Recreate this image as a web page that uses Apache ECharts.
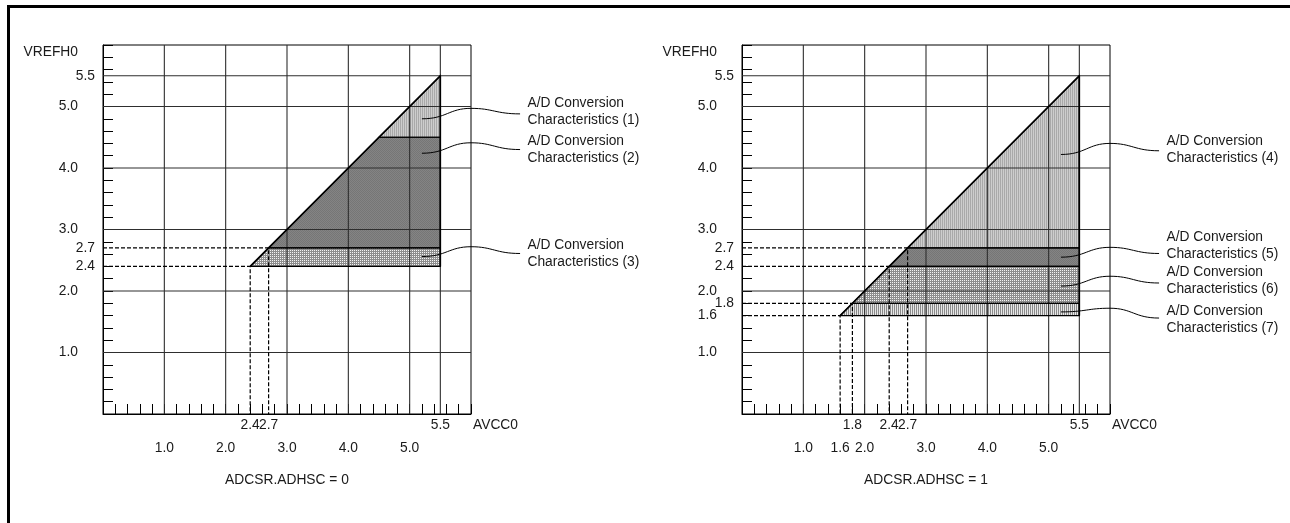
<!DOCTYPE html>
<html><head><meta charset="utf-8">
<script src="https://cdn.jsdelivr.net/npm/echarts@6/dist/echarts.min.js"></script>
<style>html,body{margin:0;padding:0;background:#fff}#c{width:1290px;height:523px}</style>
</head><body><div id="c"></div>
<script>
// ---------------- data ----------------
const gridValues = [1.0, 2.0, 3.0, 4.0, 5.0, 5.5];
const vMax = 5.5;

const leftXNearTicks = [2.4, 2.7, 5.5];
const leftXFarTicks = [1.0, 2.0, 3.0, 4.0, 5.0];
const leftYNearTicks = [2.4, 2.7, 5.5];
const leftYFarTicks = [1.0, 2.0, 3.0, 4.0, 5.0];

const rightXNearTicks = [1.8, 2.4, 2.7, 5.5];
const rightXFarTicks = [1.0, 1.6, 2.0, 3.0, 4.0, 5.0];
const rightYNearTicks = [1.8, 2.4, 2.7, 5.5];
const rightYFarTicks = [1.0, 1.6, 2.0, 3.0, 4.0, 5.0];

const leftBandLow = [4.5, 2.7, 2.4];
const leftBandHigh = [5.5, 4.5, 2.7];
const leftBandNames = ['A/D Conversion\nCharacteristics (1)', 'A/D Conversion\nCharacteristics (2)', 'A/D Conversion\nCharacteristics (3)'];
const leftDashed = [2.4, 2.7];

const rightBandLow = [2.7, 2.4, 1.8, 1.6];
const rightBandHigh = [5.5, 2.7, 2.4, 1.8];
const rightBandNames = ['A/D Conversion\nCharacteristics (4)', 'A/D Conversion\nCharacteristics (5)', 'A/D Conversion\nCharacteristics (6)', 'A/D Conversion\nCharacteristics (7)'];
const rightDashed = [1.6, 1.8, 2.4, 2.7];

const leftTitle = 'ADCSR.ADHSC = 0';
const rightTitle = 'ADCSR.ADHSC = 1';
const yAxisName = 'VREFH0';
const xAxisName = 'AVCC0';

// ---------------- styling / layout ----------------
const FONT_FAMILY = '"Liberation Sans", Arial, Helvetica, sans-serif';
const FONT_SIZE = 13.8;
const FONT = FONT_SIZE + 'px ' + FONT_FAMILY;
const TXT = '#1a1a1a';
const G = [{left: 103, top: 45, width: 368, height: 369}, {left: 742, top: 45, width: 368, height: 369}];

const leftFills = ['light', 'dark', 'cross'];
const rightFills = ['light', 'dark', 'cross', 'vline'];
// leader-line geometry (data units): start y, peak y, end y, text centre y
const leaderX = {start: 5.2, peak: 6.0, end: 6.8, text: 6.92};
const leftLeaders = [
  {sy: 4.80, py: 4.97, ey: 4.88, ty: 4.92},
  {sy: 4.24, py: 4.41, ey: 4.30, ty: 4.29},
  {sy: 2.56, py: 2.72, ey: 2.61, ty: 2.61}
];
const rightLeaders = [
  {sy: 4.22, py: 4.40, ey: 4.28, ty: 4.29},
  {sy: 2.55, py: 2.71, ey: 2.61, ty: 2.73},
  {sy: 2.08, py: 2.24, ey: 2.13, ty: 2.16},
  {sy: 1.66, py: 1.72, ey: 1.56, ty: 1.54}
];

function makePattern(w, h, pixels) {
  const c = document.createElement('canvas');
  c.width = w; c.height = h;
  const ctx = c.getContext('2d');
  for (let y = 0; y < h; y++) for (let x = 0; x < w; x++) {
    ctx.fillStyle = pixels[y][x];
    ctx.fillRect(x, y, 1, 1);
  }
  return {image: c, repeat: 'repeat'};
}
const PATTERNS = {
  light: makePattern(2, 1, [['#a9a9a9', '#cdcdcd']]),
  dark: makePattern(2, 2, [['#767676', '#848484'], ['#848484', '#767676']]),
  cross: makePattern(2, 2, [['#f4f4f4', '#8e8e8e'], ['#8e8e8e', '#8e8e8e']]),
  vline: makePattern(2, 1, [['#8a8a8a', '#e6e6e6']])
};

function labelStyle(extra) {
  return Object.assign({show: true, fontSize: FONT_SIZE, fontFamily: FONT_FAMILY, color: TXT,
    hideOverlap: false, showMinLabel: true, showMaxLabel: true,
    formatter: v => Number(v).toFixed(1)}, extra);
}
// split a label list into alternating groups so neighbouring labels never suppress each other
function alternate(list, parity) { return list.filter((_, i) => i % 2 === parity); }

const xAxes = [], yAxes = [], series = [], graphics = [];

function labelAxis(dim, gi, values, margin) {
  const a = {gridIndex: gi, type: 'value', min: 0, max: 6, position: dim === 'x' ? 'bottom' : 'left',
    axisLine: {show: false}, axisTick: {show: false}, splitLine: {show: false},
    axisLabel: labelStyle({customValues: values, margin: margin})};
  (dim === 'x' ? xAxes : yAxes).push(a);
}

function buildChart(gi, xNear, xFar, yNear, yFar, bandLow, bandHigh, names, fills, dashed, leaders, title) {
  const base = xAxes.length;
  const baseY = yAxes.length;
  xAxes.push({gridIndex: gi, type: 'value', min: 0, max: 6, interval: 0.2, position: 'bottom',
    axisLine: {show: true, onZero: false, lineStyle: {color: '#000', width: 1}},
    axisTick: {show: true, inside: true, length: 10, lineStyle: {color: '#000', width: 1}},
    axisLabel: {show: false}, splitLine: {show: false}});
  yAxes.push({gridIndex: gi, type: 'value', min: 0, max: 6, interval: 0.2, position: 'left',
    axisLine: {show: true, onZero: false, lineStyle: {color: '#000', width: 1}},
    axisTick: {show: true, inside: true, length: 10, lineStyle: {color: '#000', width: 1}},
    axisLabel: {show: false}, splitLine: {show: false}});
  [0, 1].forEach(p => {
    labelAxis('x', gi, alternate(xNear, p), 4);
    labelAxis('x', gi, alternate(xFar, p), 27);
    labelAxis('y', gi, alternate(yNear, p), 8);
    labelAxis('y', gi, alternate(yFar, p), 25);
  });

  const ax = {xAxisIndex: base, yAxisIndex: baseY};

  // region fills
  series.push(Object.assign({type: 'custom', z: 1, silent: true,
    data: bandLow.map((lo, i) => [lo, bandHigh[i]]),
    renderItem: (params, api) => {
      const lo = api.value(0), hi = api.value(1);
      const pts = [[lo, lo], [hi, hi], [vMax, hi], [vMax, lo]].map(p => api.coord(p));
      return {type: 'polygon', shape: {points: pts}, style: {fill: PATTERNS[fills[params.dataIndex]], stroke: 'none'}};
    }}, ax));
  // gridlines
  series.push(Object.assign({type: 'custom', z: 2, silent: true,
    data: gridValues.map(v => [v, v]),
    renderItem: (params, api) => {
      const v = api.value(0);
      const a = api.coord([v, 0]), b = api.coord([v, 6]), c = api.coord([0, v]), d = api.coord([6, v]);
      return {type: 'group', children: [
        {type: 'line', shape: {x1: a[0], y1: a[1], x2: b[0], y2: b[1]}, style: {stroke: '#2e2e2e', lineWidth: 1.1}},
        {type: 'line', shape: {x1: c[0], y1: c[1], x2: d[0], y2: d[1]}, style: {stroke: '#2e2e2e', lineWidth: 1.1}}
      ]};
    }}, ax));
  // region outlines
  series.push(Object.assign({type: 'custom', z: 3, silent: true,
    data: bandLow.map((lo, i) => [lo, bandHigh[i]]),
    renderItem: (params, api) => {
      const lo = api.value(0), hi = api.value(1);
      const pts = [[lo, lo], [hi, hi], [vMax, hi], [vMax, lo]].map(p => api.coord(p));
      return {type: 'polygon', shape: {points: pts}, style: {fill: 'none', stroke: '#000', lineWidth: 1.2}};
    }}, ax));
  // dashed guides
  series.push(Object.assign({type: 'custom', z: 3, silent: true,
    data: dashed.map(v => [v, v]),
    renderItem: (params, api) => {
      const v = api.value(0);
      const pts = [[0, v], [v, v], [v, 0]].map(p => api.coord(p));
      return {type: 'polyline', shape: {points: pts}, style: {fill: 'none', stroke: '#000', lineWidth: 1.2, lineDash: [4, 2]}};
    }}, ax));
  // diagonal boundary and right edge
  const lowest = Math.min.apply(null, bandLow);
  series.push(Object.assign({type: 'line', z: 4, silent: true, showSymbol: false, symbol: 'none',
    data: [[lowest, lowest], [vMax, vMax]], lineStyle: {color: '#000', width: 1.6}}, ax));
  series.push(Object.assign({type: 'line', z: 4, silent: true, showSymbol: false, symbol: 'none',
    data: [[vMax, lowest], [vMax, vMax]], lineStyle: {color: '#000', width: 1.6}}, ax));
  // leaders + labels
  series.push(Object.assign({type: 'custom', z: 5, silent: true,
    data: leaders.map(l => [leaderX.start, l.sy]),
    renderItem: (params, api) => {
      const l = leaders[params.dataIndex];
      const S = api.coord([leaderX.start, l.sy]);
      const P = api.coord([leaderX.peak, l.py]);
      const E = api.coord([leaderX.end, l.ey]);
      const T = api.coord([leaderX.text, l.ty]);
      const d1 = P[0] - S[0], d2 = E[0] - P[0];
      const st = {stroke: '#000', lineWidth: 1, fill: 'none'};
      return {type: 'group', children: [
        {type: 'bezierCurve', shape: {x1: S[0], y1: S[1], cpx1: S[0] + d1 * 0.5, cpy1: S[1], cpx2: P[0] - d1 * 0.45, cpy2: P[1], x2: P[0], y2: P[1]}, style: st},
        {type: 'bezierCurve', shape: {x1: P[0], y1: P[1], cpx1: P[0] + d2 * 0.45, cpy1: P[1], cpx2: E[0] - d2 * 0.5, cpy2: E[1], x2: E[0], y2: E[1]}, style: st},
        {type: 'text', style: {text: names[params.dataIndex], x: T[0], y: T[1], font: FONT, fill: TXT,
          align: 'left', verticalAlign: 'middle', textAlign: 'left', textVerticalAlign: 'middle', lineHeight: 17}}
      ]};
    }}, ax));

  const g = G[gi];
  graphics.push({type: 'text', x: g.left + g.width / 2, y: 480,
    style: {text: title, font: FONT, fill: TXT, align: 'center', verticalAlign: 'middle', textAlign: 'center', textVerticalAlign: 'middle'}});
  graphics.push({type: 'text', x: g.left - 25, y: 52,
    style: {text: yAxisName, font: FONT, fill: TXT, align: 'right', verticalAlign: 'middle', textAlign: 'right', textVerticalAlign: 'middle'}});
  graphics.push({type: 'text', x: g.left + g.width + 2, y: g.top + g.height + 11,
    style: {text: xAxisName, font: FONT, fill: TXT, align: 'left', verticalAlign: 'middle', textAlign: 'left', textVerticalAlign: 'middle'}});
}

buildChart(0, leftXNearTicks, leftXFarTicks, leftYNearTicks, leftYFarTicks, leftBandLow, leftBandHigh, leftBandNames, leftFills, leftDashed, leftLeaders, leftTitle);
buildChart(1, rightXNearTicks, rightXFarTicks, rightYNearTicks, rightYFarTicks, rightBandLow, rightBandHigh, rightBandNames, rightFills, rightDashed, rightLeaders, rightTitle);

// outer frame
graphics.push({type: 'line', shape: {x1: 7, y1: 6.5, x2: 1290, y2: 6.5}, style: {stroke: '#000', lineWidth: 3}});
graphics.push({type: 'line', shape: {x1: 8.5, y1: 5, x2: 8.5, y2: 523}, style: {stroke: '#000', lineWidth: 3}});

const chart = echarts.init(document.getElementById('c'), null, {renderer: 'canvas'});
chart.setOption({
  animation: false,
  backgroundColor: '#fff',
  grid: G.map(g => Object.assign({show: true, borderColor: '#000', borderWidth: 1, backgroundColor: 'transparent',
    containLabel: false, outerBoundsMode: 'none'}, g)),
  xAxis: xAxes,
  yAxis: yAxes,
  series: series,
  graphic: graphics
});
</script></body></html>
